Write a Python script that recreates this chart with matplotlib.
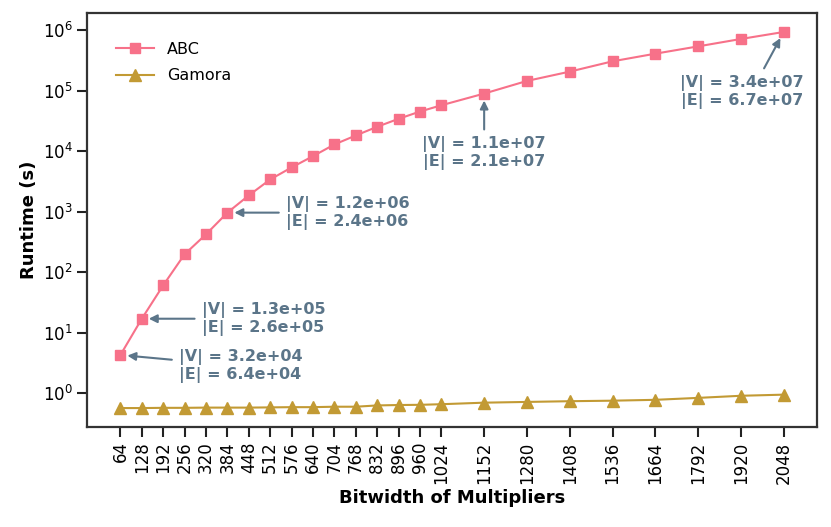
import numpy as np
import matplotlib.pyplot as plt

bitwidths = [64, 128, 192, 256, 320, 384, 448, 512, 576, 640, 704, 768, 832, 896,
             960, 1024, 1152, 1280, 1408, 1536, 1664, 1792, 1920, 2048]
abc_runtime = [4.3, 17.1, 61, 199, 425, 970, 1870, 3430, 5420, 8330, 13000, 18300,
               25500, 34500, 45500, 57800, 90200, 146000, 208000, 308000, 412000,
               544000, 721000, 941000]
gamora_runtime = [0.57, 0.57, 0.575, 0.575, 0.58, 0.58, 0.58, 0.585, 0.59, 0.59,
                  0.6, 0.6, 0.63, 0.64, 0.645, 0.66, 0.70, 0.72, 0.74, 0.755,
                  0.78, 0.84, 0.91, 0.95]

# (index into bitwidths, |V|, |E|)
notes = [(0, "3.2e+04", "6.4e+04"),
         (1, "1.3e+05", "2.6e+05"),
         (5, "1.2e+06", "2.4e+06"),
         (16, "1.1e+07", "2.1e+07"),
         (23, "3.4e+07", "6.7e+07")]
# text offsets in points from the point
note_offsets = [(42, -8), (43, 0), (42, 0), (0, -43), (-30, -43)]
note_align = ["left", "left", "left", "center", "center"]
note_relpos = [None, None, None, None, (0.65, 1.0)]

pink = "#f77189"
gold = "#c29a34"
slate = "#5b7589"

plt.rcParams["font.family"] = "DejaVu Sans"
fig, ax = plt.subplots(figsize=(8.31, 5.27), dpi=100)
ax.plot(bitwidths, abc_runtime, color=pink, marker="s", markersize=7, lw=1.5, label="ABC")
ax.plot(bitwidths, gamora_runtime, color=gold, marker="^", markersize=8.5, lw=1.5, label="Gamora")
ax.set_yscale("log")
ax.minorticks_off()
ax.set_yticks([1, 10, 100, 1e3, 1e4, 1e5, 1e6])
ax.set_xticks(bitwidths)
ax.set_xticklabels([str(b) for b in bitwidths], rotation=90)
ax.tick_params(axis="both", labelsize=12, length=7, width=1.5, color="#222222")
for s in ax.spines.values():
    s.set_linewidth(1.6)
    s.set_color("#333333")

for (i, v, e), off, ha, rp in zip(notes, note_offsets, note_align, note_relpos):
    props = dict(arrowstyle="-|>", color=slate, lw=1.5,
                 shrinkA=3, shrinkB=5, mutation_scale=12)
    if rp is not None:
        props["relpos"] = rp
    ax.annotate("|V| = %s\n|E| = %s" % (v, e), xy=(bitwidths[i], abc_runtime[i]),
                xytext=off, textcoords="offset points", ha=ha, va="center",
                fontsize=11.5, fontweight="bold", color=slate, linespacing=1.15,
                arrowprops=props)

ax.set_xlabel("Bitwidth of Multipliers", fontsize=13, fontweight="bold")
ax.set_ylabel("Runtime (s)", fontsize=13, fontweight="bold", labelpad=3)
ax.legend(loc="upper left", frameon=False, fontsize=11.5, borderpad=1.3,
          handlelength=2.4, handletextpad=0.8, labelspacing=0.7)
fig.subplots_adjust(left=0.105, right=0.983, top=0.975, bottom=0.19)
fig.savefig("out.png", dpi=100)
